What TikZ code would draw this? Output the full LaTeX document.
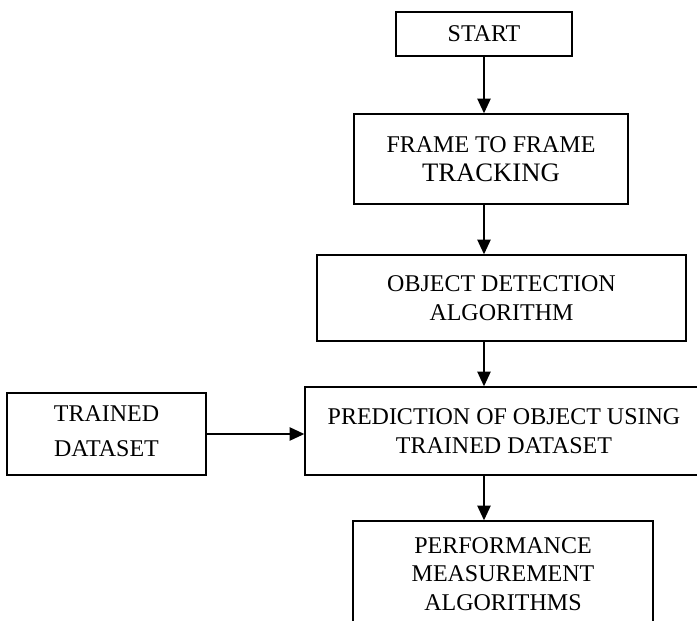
\documentclass[tikz,border=0pt]{standalone}
\usepackage{fontspec}
\setmainfont{Liberation Serif}
\usetikzlibrary{arrows.meta}

\begin{document}
\begin{tikzpicture}[x=0.75pt,y=-0.75pt,
  box/.style={draw,line width=1.1pt,align=center,inner sep=0pt,
    font=\fontsize{18}{21.6}\selectfont},
  arr/.style={line width=1.1pt,-{Triangle[length=11pt,width=10pt]}}]
  \useasboundingbox (0,0) rectangle (697,621);
  \node [box,minimum width=132pt,minimum height=33pt] (start) at (484,34) {START};
  \node [box,minimum width=205.5pt,minimum height=67.5pt] (frame) at (491,159)
    {FRAME TO FRAME\\{\fontsize{20}{24}\selectfont TRACKING}};
  \node [box,minimum width=276.75pt,minimum height=64.5pt] (detect) at (501.5,298)
    {OBJECT DETECTION\\ALGORITHM};
  \node [box,minimum width=298.5pt,minimum height=66pt] (predict) at (504,431)
    {PREDICTION OF OBJECT USING\\TRAINED DATASET};
  \node [box,minimum width=149.25pt,minimum height=61.5pt] (trained) at (106.5,434)
    {TRAINED\\[4.5pt]DATASET\rule[-4.5pt]{0pt}{0pt}};
  \node [box,minimum width=225pt,minimum height=79.5pt] (perf) at (503,574)
    {PERFORMANCE\\MEASUREMENT\\ALGORITHMS};

  \draw [arr] (start.south) -- (start.south |- frame.north);
  \draw [arr] (start.south |- frame.south) -- (start.south |- detect.north);
  \draw [arr] (start.south |- detect.south) -- (start.south |- predict.north);
  \draw [arr] (start.south |- predict.south) -- (start.south |- perf.north);
  \draw [arr] (trained.east) -- (trained.east -| predict.west);
\end{tikzpicture}
\end{document}
